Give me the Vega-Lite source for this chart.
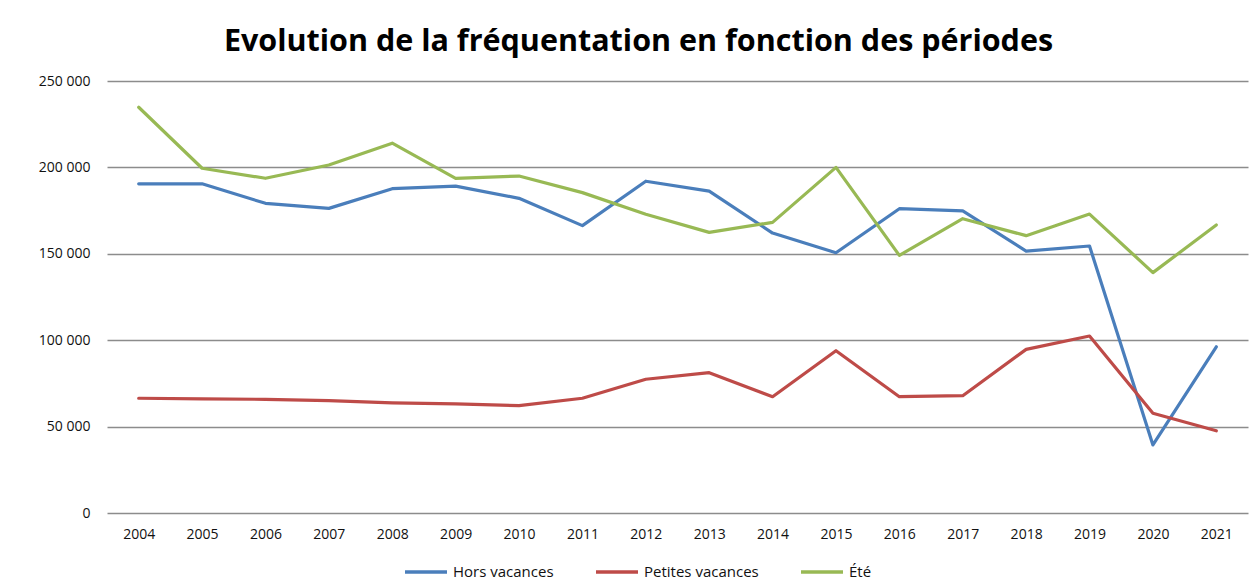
{
  "$schema": "https://vega.github.io/schema/vega-lite/v6.json",
  "autosize": "none",
  "width": 1141,
  "height": 432,
  "padding": {"left": 107, "top": 81, "right": 9, "bottom": 74},
  "background": "white",
  "title": {
    "text": "Evolution de la fréquentation en fonction des périodes",
    "anchor": "middle",
    "dx": -39,
    "dy": 36,
    "offset": 29,
    "baseline": "alphabetic",
    "font": "Open Sans",
    "fontSize": 30.5,
    "fontWeight": "bold",
    "color": "#000000"
  },
  "data": {
    "values": [
      {"year": "2004", "series": "Hors vacances", "value": 190500},
      {"year": "2005", "series": "Hors vacances", "value": 190500},
      {"year": "2006", "series": "Hors vacances", "value": 179200},
      {"year": "2007", "series": "Hors vacances", "value": 176300},
      {"year": "2008", "series": "Hors vacances", "value": 187700},
      {"year": "2009", "series": "Hors vacances", "value": 189200},
      {"year": "2010", "series": "Hors vacances", "value": 182100},
      {"year": "2011", "series": "Hors vacances", "value": 166300},
      {"year": "2012", "series": "Hors vacances", "value": 192000},
      {"year": "2013", "series": "Hors vacances", "value": 186300},
      {"year": "2014", "series": "Hors vacances", "value": 162000},
      {"year": "2015", "series": "Hors vacances", "value": 150600},
      {"year": "2016", "series": "Hors vacances", "value": 176100},
      {"year": "2017", "series": "Hors vacances", "value": 174800},
      {"year": "2018", "series": "Hors vacances", "value": 151600},
      {"year": "2019", "series": "Hors vacances", "value": 154500},
      {"year": "2020", "series": "Hors vacances", "value": 39400},
      {"year": "2021", "series": "Hors vacances", "value": 96200},
      {"year": "2004", "series": "Petites vacances", "value": 66400},
      {"year": "2005", "series": "Petites vacances", "value": 66000},
      {"year": "2006", "series": "Petites vacances", "value": 65800},
      {"year": "2007", "series": "Petites vacances", "value": 65000},
      {"year": "2008", "series": "Petites vacances", "value": 63700},
      {"year": "2009", "series": "Petites vacances", "value": 63100},
      {"year": "2010", "series": "Petites vacances", "value": 62100},
      {"year": "2011", "series": "Petites vacances", "value": 66400},
      {"year": "2012", "series": "Petites vacances", "value": 77400},
      {"year": "2013", "series": "Petites vacances", "value": 81200},
      {"year": "2014", "series": "Petites vacances", "value": 67300},
      {"year": "2015", "series": "Petites vacances", "value": 93900},
      {"year": "2016", "series": "Petites vacances", "value": 67300},
      {"year": "2017", "series": "Petites vacances", "value": 67900},
      {"year": "2018", "series": "Petites vacances", "value": 94700},
      {"year": "2019", "series": "Petites vacances", "value": 102400},
      {"year": "2020", "series": "Petites vacances", "value": 57700},
      {"year": "2021", "series": "Petites vacances", "value": 47600},
      {"year": "2004", "series": "Été", "value": 234800},
      {"year": "2005", "series": "Été", "value": 199500},
      {"year": "2006", "series": "Été", "value": 193700},
      {"year": "2007", "series": "Été", "value": 201400},
      {"year": "2008", "series": "Été", "value": 214000},
      {"year": "2009", "series": "Été", "value": 193700},
      {"year": "2010", "series": "Été", "value": 195000},
      {"year": "2011", "series": "Été", "value": 185400},
      {"year": "2012", "series": "Été", "value": 172900},
      {"year": "2013", "series": "Été", "value": 162400},
      {"year": "2014", "series": "Été", "value": 168200},
      {"year": "2015", "series": "Été", "value": 200000},
      {"year": "2016", "series": "Été", "value": 149100},
      {"year": "2017", "series": "Été", "value": 170300},
      {"year": "2018", "series": "Été", "value": 160500},
      {"year": "2019", "series": "Été", "value": 173000},
      {"year": "2020", "series": "Été", "value": 139100},
      {"year": "2021", "series": "Été", "value": 166700}
    ]
  },
  "mark": {"type": "line", "strokeWidth": 3.2, "strokeCap": "round", "strokeJoin": "round"},
  "encoding": {
    "x": {
      "field": "year",
      "type": "ordinal",
      "scale": {"type": "point", "padding": 0.5},
      "axis": {
        "title": null,
        "labelAngle": 0,
        "ticks": false,
        "domain": false,
        "labelPadding": 14,
        "labelFont": "Open Sans",
        "labelFontSize": 14,
        "labelColor": "#111111"
      }
    },
    "y": {
      "field": "value",
      "type": "quantitative",
      "scale": {"domain": [0, 250000], "nice": false, "zero": true},
      "axis": {
        "title": null,
        "values": [0, 50000, 100000, 150000, 200000, 250000],
        "labelExpr": "replace(format(datum.value, ','), ',', ' ')",
        "ticks": false,
        "domain": false,
        "grid": true,
        "gridColor": "#8c8c8c",
        "gridWidth": 1.3,
        "labelPadding": 17,
        "labelFont": "Open Sans",
        "labelFontSize": 14,
        "labelColor": "#111111"
      }
    },
    "color": {
      "field": "series",
      "type": "nominal",
      "sort": ["Hors vacances", "Petites vacances", "Été"],
      "scale": {
        "domain": ["Hors vacances", "Petites vacances", "Été"],
        "range": ["#4A7EBB", "#BE4B48", "#98B954"]
      },
      "legend": {
        "title": null,
        "orient": "none",
        "direction": "horizontal",
        "columns": 3,
        "legendX": 296,
        "legendY": 468,
        "symbolType": "stroke",
        "symbolSize": 1764,
        "symbolStrokeWidth": 3.5,
        "labelOffset": 4,
        "columnPadding": 35,
        "labelFont": "Open Sans",
        "labelFontSize": 15,
        "labelColor": "#111111"
      }
    }
  },
  "config": {
    "view": {"stroke": null}
  }
}
